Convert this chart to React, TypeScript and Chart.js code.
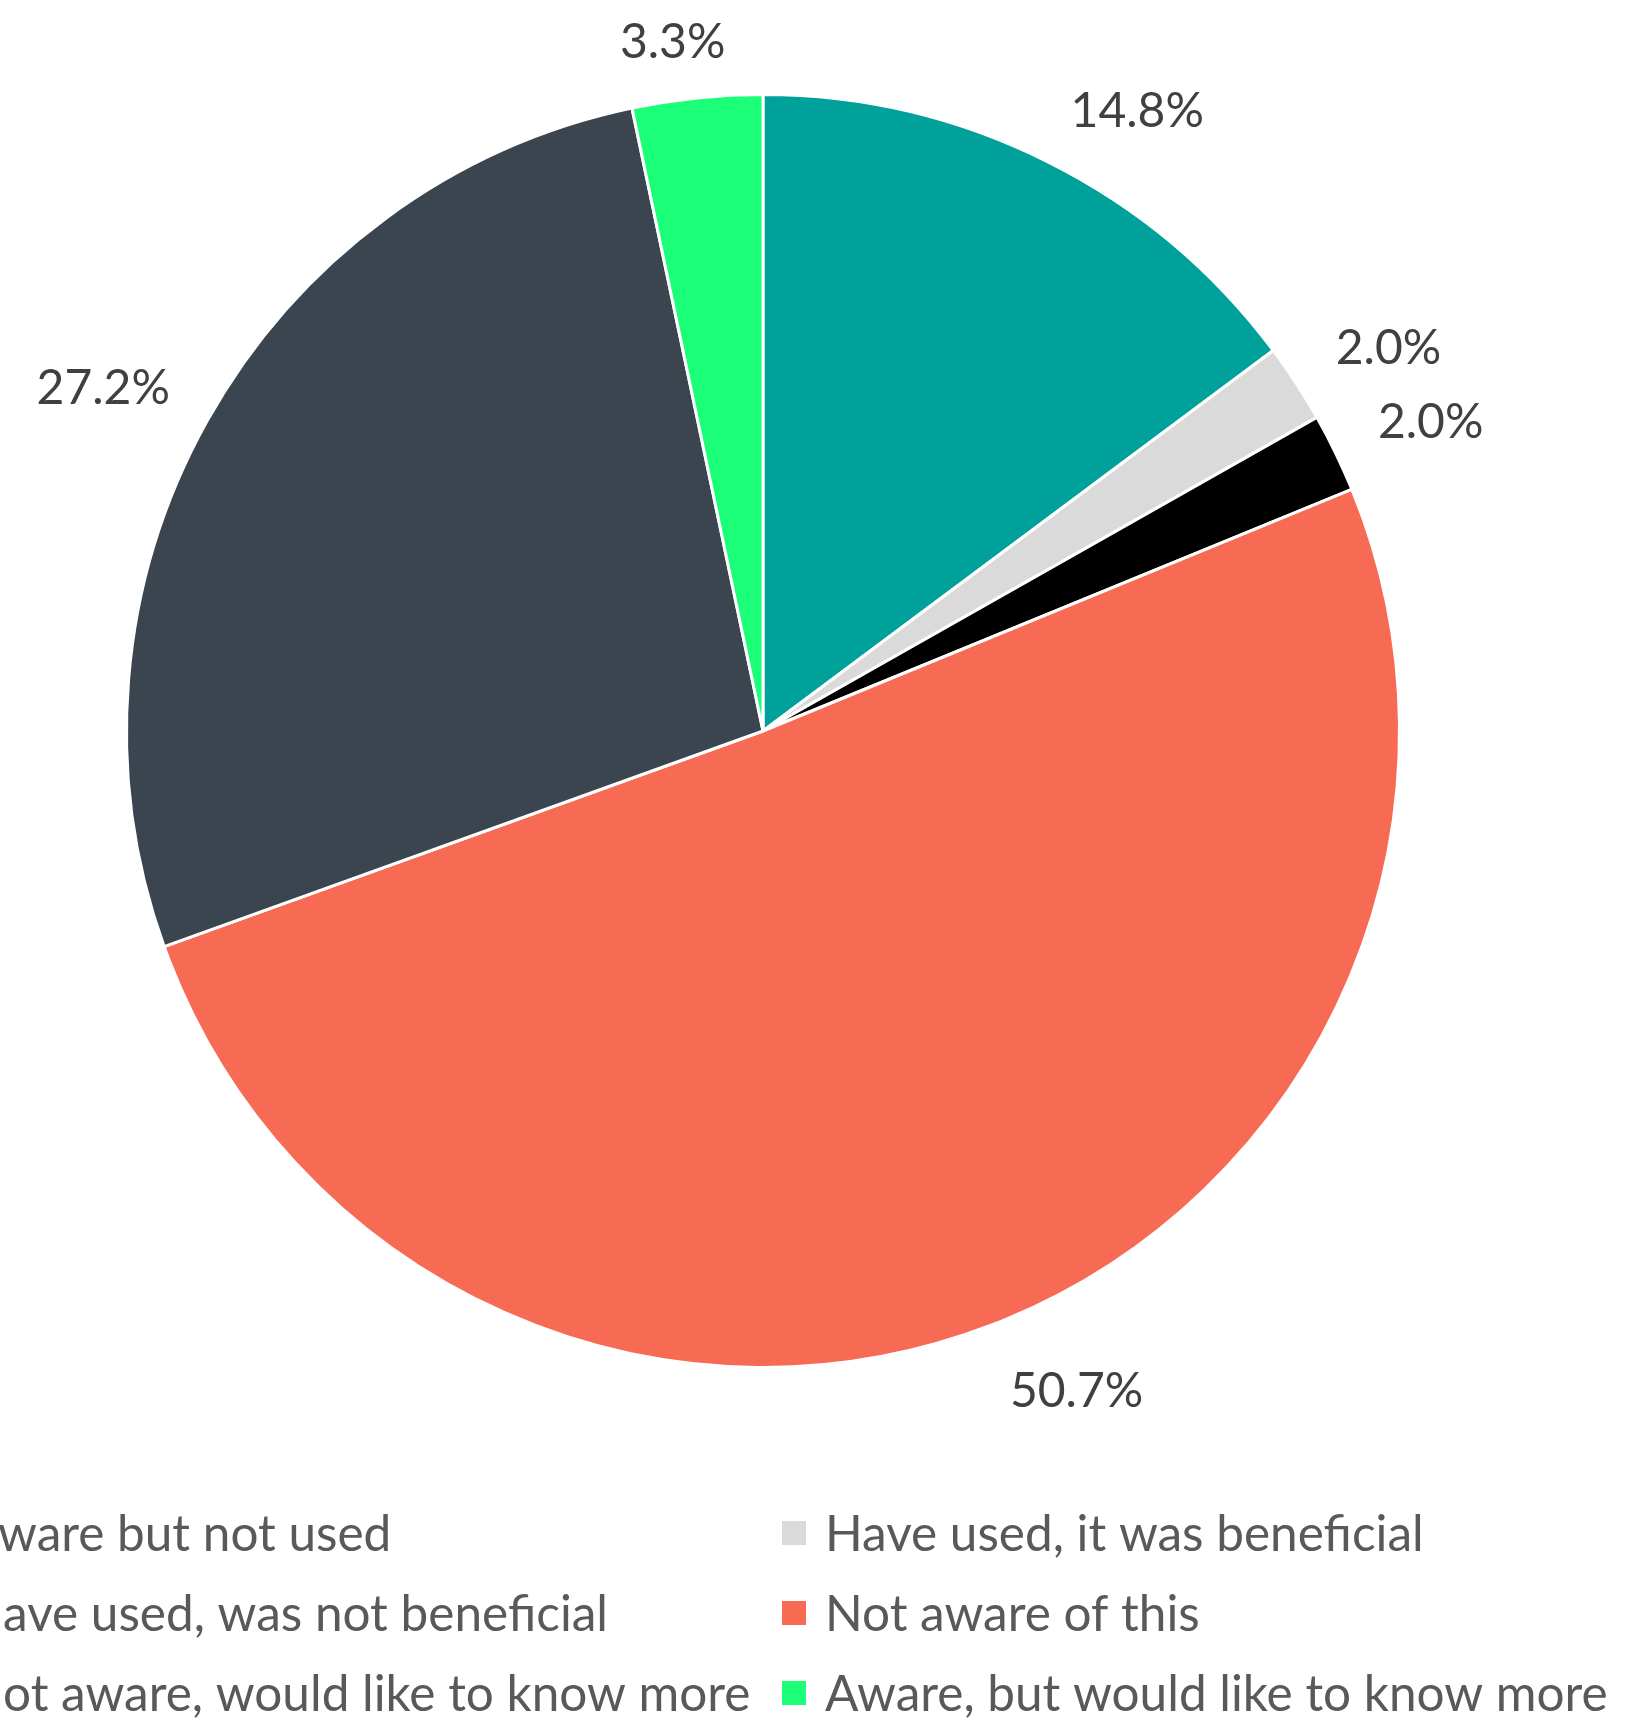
import React, { useEffect, useRef } from "react";
import { Chart, registerables } from "chart.js";

Chart.register(...registerables);

const categories = [
  "Aware but not used",
  "Have used, it was beneficial",
  "Have used, was not beneficial",
  "Not aware of this",
  "Not aware, would like to know more",
  "Aware, but would like to know more",
];
const values = [14.8, 2.0, 2.0, 50.7, 27.2, 3.3];
const colors = ["#00A19A", "#DADADA", "#000000", "#F76A54", "#3A4550", "#1BFF78"];

const W = 1647;
const H = 1721;
const FONT = "Lato, 'Open Sans', sans-serif";

const clamp = (v: number) => Math.max(-1, Math.min(1, v));

const labelPlugin = {
  id: "outLabels",
  afterDatasetsDraw(chart: any) {
    const ctx = chart.ctx;
    const meta = chart.getDatasetMeta(0);
    ctx.save();
    ctx.font = `48px ${FONT}`;
    ctx.fillStyle = "#404040";
    ctx.textAlign = "center";
    ctx.textBaseline = "middle";
    meta.data.forEach((arc: any, i: number) => {
      const p = arc.getProps(["x", "y", "startAngle", "endAngle", "outerRadius"], true);
      const mid = (p.startAngle + p.endAngle) / 2;
      const R = p.outerRadius + 45;
      const px = p.x + R * Math.cos(mid);
      const py = p.y + R * Math.sin(mid);
      const text = values[i].toFixed(1) + "%";
      const w = ctx.measureText(text).width;
      const h = 35;
      const ox = (w / 2) * clamp(4 * Math.cos(mid));
      const oy = (h / 2) * clamp(4 * Math.sin(mid));
      ctx.fillText(text, px + ox + 2, py + oy + 7);
    });
    ctx.restore();
  },
};

const legendPlugin = {
  id: "customLegend",
  afterDraw(chart: any) {
    const ctx = chart.ctx;
    ctx.save();
    ctx.font = `49.5px ${FONT}`;
    ctx.textAlign = "left";
    ctx.textBaseline = "middle";
    const colX = [-34, 825];
    const rowY = [1533, 1613, 1693];
    categories.forEach((label, i) => {
      const col = i % 2;
      const row = Math.floor(i / 2);
      const tx = colX[col];
      const ty = rowY[row];
      ctx.fillStyle = colors[i];
      ctx.fillRect(tx - 43, ty - 12, 24, 24);
      ctx.fillStyle = "#595959";
      ctx.fillText(label, tx, ty + 2);
    });
    ctx.restore();
  },
};

export default function App() {
  const ref = useRef<HTMLCanvasElement>(null);
  useEffect(() => {
    if (!ref.current) return;
    const chart = new Chart(ref.current, {
      type: "pie",
      data: {
        labels: categories,
        datasets: [
          {
            data: values,
            backgroundColor: colors,
            borderColor: "#FFFFFF",
            borderWidth: 3,
          },
        ],
      },
      options: {
        responsive: false,
        animation: false,
        layout: { padding: { left: 125, right: 246, top: 93, bottom: 352 } },
        plugins: {
          legend: { display: false },
          tooltip: { enabled: false },
        },
      },
      plugins: [labelPlugin, legendPlugin],
    });
    return () => chart.destroy();
  }, []);
  return (
    <div style={{ position: "absolute", left: 0, top: 0, width: W, height: H, background: "#fff" }}>
      <canvas ref={ref} width={W} height={H} style={{ width: W, height: H }} />
    </div>
  );
}
